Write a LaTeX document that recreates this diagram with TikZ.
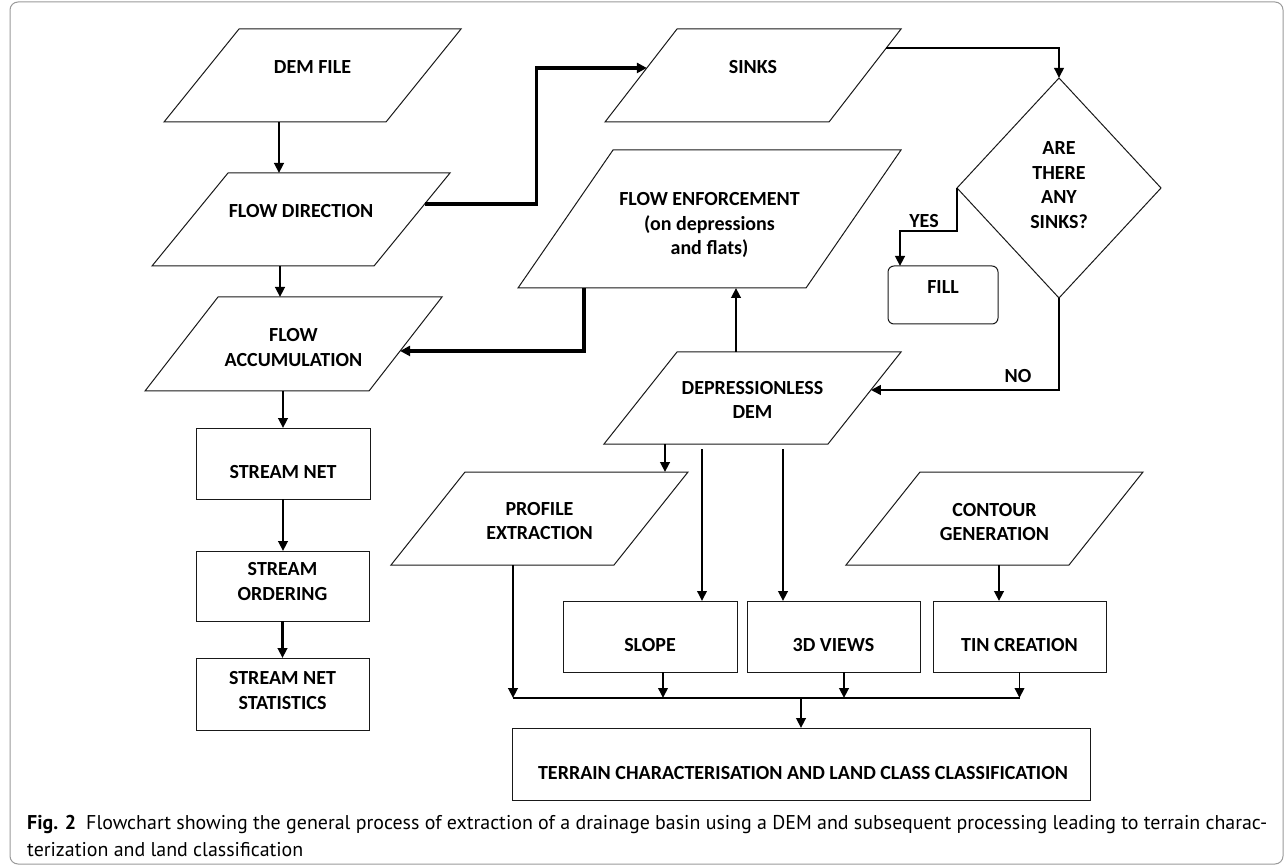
\documentclass[tikz,border=0pt]{standalone}
\usepackage{graphicx}
\usepackage{fontspec}
\setmainfont{Carlito}
\newfontfamily\capfont{PT Sans}
\usetikzlibrary{arrows.meta,shapes.geometric,calc}

\newcommand\paraol[2]{%
  \coordinate (#1-tl) at ([xshift=#2pt]#1.north west);
  \coordinate (#1-tr) at (#1.north east);
  \coordinate (#1-br) at ([xshift=-#2pt]#1.south east);
  \coordinate (#1-bl) at (#1.south west);
  \draw[shapeline] (#1-tl) -- (#1-tr) -- (#1-br) -- (#1-bl) -- cycle;}

\begin{document}
\begin{tikzpicture}[x=1pt,y=-1pt,
  shapeline/.style={line width=1pt, draw=black!90},
  pnode/.style 2 args={rectangle, inner sep=0pt, outer sep=0pt, minimum width=#1pt, minimum height=#2pt},
  rbox/.style 2 args={rectangle, draw=black!90, line width=1pt, inner sep=0pt, outer sep=0pt, minimum width=#1pt, minimum height=#2pt},
  txt/.style={font=\bfseries\fontsize{20}{24.5}\selectfont, align=center, inner sep=0pt},
  arr/.style={line width=2.8pt, -{Triangle[length=10pt,width=9.5pt]}},
  arrbold/.style={line width=3.3pt, -{Triangle[length=10pt,width=10pt]}},
  arrthin/.style={line width=1.9pt, -{Triangle[length=10pt,width=9.5pt]}},
  thinline/.style={line width=1.4pt},
]
\useasboundingbox (0,0) rectangle (1285,866);
\draw[draw=black!40, line width=1pt, rounded corners=8pt] (10,2) rectangle (1283,864);

% parallelogram nodes (bounding boxes)
\node[pnode={297}{93}] (dem) at (312.5,75.5) {};
\node[pnode={298}{93}] (fd) at (301,219.5) {};
\node[pnode={297}{94}] (fa) at (293.5,344) {};
\node[pnode={296}{93}] (sinks) at (753,75.5) {};
\node[pnode={383}{138}] (fe) at (709.5,219) {};
\node[pnode={297}{92}] (dd) at (752.5,398) {};
\node[pnode={297}{93}] (pe) at (539.5,518.5) {};
\node[pnode={297}{93}] (cg) at (994.5,518.5) {};
\paraol{dem}{75}
\paraol{fd}{76}
\paraol{fa}{73}
\paraol{sinks}{72}
\paraol{fe}{95}
\paraol{dd}{73}
\paraol{pe}{74}
\paraol{cg}{74}

% rectangles
\node[rbox={174}{71}] (sn) at (283,463.5) {};
\node[rbox={173}{70}] (so) at (282.5,586) {};
\node[rbox={173}{72}] (sns) at (282.5,694) {};
\node[rbox={174}{71}] (slope) at (650,636.5) {};
\node[rbox={173}{71}] (v3d) at (833.5,636.5) {};
\node[rbox={173}{71}] (tin) at (1019.5,636.5) {};
\node[rbox={578}{72}] (terrain) at (801,764) {};
\node[rbox={110}{58}, rounded corners=6pt] (fill) at (943,295) {};
\node[diamond, draw=black!90, line width=1pt, inner sep=0pt, outer sep=0pt, minimum width=204pt, minimum height=220pt] (dia) at (1059,188) {};

% texts
\node[txt] (demT) at (312.5,67) {DEM FILE};
\node[txt] (fdT) at (301,211) {FLOW DIRECTION};
\node[txt] (faT) at (293.5,347.5) {FLOW\\ACCUMULATION};
\node[txt] (snT) at (283,472) {STREAM NET};
\node[txt] (soT) at (282.5,581.5) {STREAM\\ORDERING};
\node[txt] (snsT) at (282.5,690.5) {STREAM NET\\STATISTICS};
\node[txt] (sinksT) at (753,67) {SINKS};
\node[txt] (feT) at (709.5,225) {FLOW ENFORCEMENT\\(on depressions\\and flats)};
\node[txt] (diaT) at (1059,185) {ARE\\THERE\\ANY\\SINKS?};
\node[txt] (fillT) at (943,287) {FILL};
\node[txt] (ddT) at (752.5,400) {DEPRESSIONLESS\\DEM};
\node[txt] (peT) at (539.5,521) {PROFILE\\EXTRACTION};
\node[txt] (cgT) at (994.5,522) {CONTOUR\\GENERATION};
\node[txt] (slopeT) at (650,645) {SLOPE};
\node[txt] (v3dT) at (833.5,645) {3D VIEWS};
\node[txt] (tinT) at (1019.5,645) {TIN CREATION};
\node[txt] (terrainT) at (803,773) {TERRAIN CHARACTERISATION AND LAND CLASS CLASSIFICATION};
\node[txt] (yesL) at (924,221) {YES};
\node[txt] (noL) at (1018,376) {NO};

% connector coordinates
\coordinate (a0) at ($(dem.south)+(-33.5,0)$);
\coordinate (b0) at ($(fd.south)+(-21,0)$);
\coordinate (f0) at ($(fd-tr)!0.333!(fd-br)$);
\coordinate (f1) at ($(sinks-tl)!0.419!(sinks-bl)$);
\coordinate (g0) at ($(sinks-tr)!0.204!(sinks-br)$);
\coordinate (i1) at ($(dd-tr)!0.413!(dd-br)$);
\coordinate (j0) at ($(dd.north)+(-16.5,0)$);
\coordinate (k0) at ($(fe.south)+(-125.5,0)$);
\coordinate (k1) at ($(fa-tr)!0.574!(fa-br)$);
\coordinate (l0) at ($(dd.south)+(-87.5,0)$);
\coordinate (m0) at ($(dd.south)+(-50.5,5)$);
\coordinate (n0) at ($(dd.south)+(30.5,5)$);
\coordinate (o0) at ($(cg.south)+(4.5,0)$);
\coordinate (p0) at ($(pe.south)+(-26.5,0)$);
\coordinate (mL) at ($(p0)+(0,133)$);
\coordinate (mR) at (tin.south |- mL);
\coordinate (q0) at ($(slope.south)+(13,0)$);
\coordinate (r0) at ($(v3d.south)+(10.5,0)$);

% connectors
\draw[arr] (a0) -- (a0 |- fd.north);
\draw[arr] (b0) -- (b0 |- fa.north);
\draw[arr] (fa.south -| sn.north) -- (sn.north);
\draw[arr] (sn.south) -- (sn.south |- so.north);
\draw[arr] (so.south) -- (so.south |- sns.north);
\draw[arrbold] (f0) -- ++(112,0) |- (f1);
\draw[arrthin] (g0) -| (dia.north);
\draw[arr] (dia.west) -- ++(0,43) -| ($(fill.north)+(-43,0)$);
\draw[arr] (dia.south) |- (i1);
\draw[arr] (j0) -- (j0 |- fe.south);
\draw[arrbold] (k0) |- (k1);
\draw[arr] (l0) -- (l0 |- pe.north);
\draw[arrthin] (m0) -- (m0 |- slope.north);
\draw[arr] (n0) -- (n0 |- v3d.north);
\draw[arr] (o0) -- (o0 |- tin.north);
\draw[thinline] (mL) -- (mR);
\draw[arr] (p0) -- (mL);
\draw[arrthin] (q0) -- (q0 |- mL);
\draw[arr] (r0) -- (r0 |- mL);
\draw[arrthin] (tin.south) -- (mR);
\draw[arr] (terrain.north |- mL) -- (terrain.north);

% caption
\node[anchor=north west, inner sep=0pt] (cap) at (27,810) {\resizebox{1240pt}{!}{\capfont\fontsize{17.5}{24}\selectfont\begin{tabular}{@{}l@{}}\textbf{Fig. 2}\hspace{0.5em}Flowchart showing the general process of extraction of a drainage basin using a DEM and subsequent processing leading to terrain charac-\\terization and land classification\end{tabular}}};
\end{tikzpicture}
\end{document}
